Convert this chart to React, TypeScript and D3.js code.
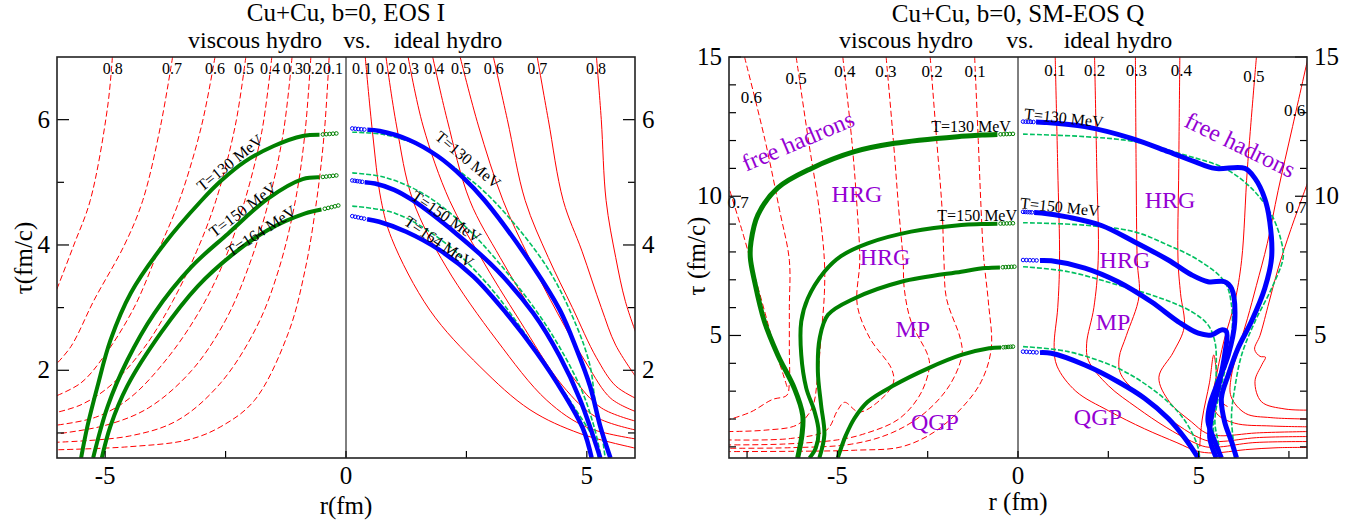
import React from 'react';
import * as d3 from 'd3';

type Pt = [number, number];

// ================= LEFT PANEL: Cu+Cu, b=0, EOS I =================
const velocityLabelsI = ['0.1', '0.2', '0.3', '0.4', '0.5', '0.6', '0.7', '0.8'];

// viscous hydro (dashed) velocity contours, r<0
const eosIViscV01: Pt[] = [[-0.35, 7], [-0.45, 5.8], [-0.61, 4.71], [-0.85, 3.6], [-1.2, 2.59], [-1.9, 1.52], [-2.6, 1.1], [-3.28, 0.89], [-4.5, 0.78], [-6.05, 0.73]];
const eosIViscV02: Pt[] = [[-0.73, 7], [-0.85, 5.8], [-1.05, 4.71], [-1.4, 3.6], [-1.85, 2.7], [-2.6, 1.8], [-3.5, 1.2], [-4.5, 0.95], [-6.05, 0.85]];
const eosIViscV03: Pt[] = [[-1.12, 7], [-1.3, 5.8], [-1.6, 4.71], [-2.0, 3.7], [-2.5, 2.8], [-3.2, 2.0], [-4.1, 1.4], [-5.0, 1.12], [-6.05, 0.98]];
const eosIViscV04: Pt[] = [[-1.54, 7], [-1.75, 5.8], [-2.1, 4.71], [-2.5, 3.8], [-3.0, 3.0], [-3.7, 2.2], [-4.5, 1.55], [-5.2, 1.25], [-6.05, 1.12]];
const eosIViscV05: Pt[] = [[-2.08, 7], [-2.3, 5.9], [-2.7, 4.71], [-3.1, 3.9], [-3.6, 3.1], [-4.2, 2.35], [-4.9, 1.75], [-5.5, 1.45], [-6.05, 1.32]];
const eosIViscV06: Pt[] = [[-2.72, 7], [-3.0, 5.9], [-3.46, 4.71], [-3.9, 3.9], [-4.4, 3.0], [-5.0, 2.25], [-5.5, 1.8], [-6.05, 1.58]];
const eosIViscV07: Pt[] = [[-3.6, 7], [-3.85, 5.9], [-4.22, 4.71], [-4.6, 4.0], [-5.23, 3.12], [-5.71, 2.38], [-6.05, 2.07]];
const eosIViscV08: Pt[] = [[-4.85, 7], [-4.95, 6.2], [-5.31, 4.71], [-5.65, 4.0], [-6.05, 3.2]];
const eosIViscousVelocity: Pt[][] = [eosIViscV01, eosIViscV02, eosIViscV03, eosIViscV04, eosIViscV05, eosIViscV06, eosIViscV07, eosIViscV08];

// ideal hydro (solid) velocity contours, r>0
const eosIIdealV01: Pt[] = [[0.4, 7], [0.55, 5.8], [0.73, 4.71], [0.95, 4.1], [1.74, 2.96], [2.78, 2.06], [3.82, 1.37], [4.86, 0.99], [6.05, 0.75]];
const eosIIdealV02: Pt[] = [[0.83, 7], [1.05, 5.9], [1.39, 4.71], [2.08, 3.65], [3.13, 2.48], [4.17, 1.52], [5.0, 1.09], [6.05, 0.9]];
const eosIIdealV03: Pt[] = [[1.29, 7], [1.6, 5.9], [2.15, 4.71], [2.8, 3.8], [3.6, 2.8], [4.5, 1.75], [5.2, 1.25], [6.05, 1.04]];
const eosIIdealV04: Pt[] = [[1.8, 7], [2.1, 6.0], [2.57, 4.71], [3.2, 3.8], [3.9, 2.9], [4.7, 1.9], [5.3, 1.4], [6.05, 1.18]];
const eosIIdealV05: Pt[] = [[2.37, 7], [2.75, 5.9], [3.26, 4.71], [3.8, 3.8], [4.4, 2.9], [5.0, 2.1], [5.5, 1.55], [6.05, 1.33]];
const eosIIdealV06: Pt[] = [[3.06, 7], [3.35, 6.0], [3.72, 4.71], [4.2, 3.8], [4.7, 3.0], [5.2, 2.2], [5.6, 1.75], [6.05, 1.54]];
const eosIIdealV07: Pt[] = [[3.97, 7], [4.2, 6.0], [4.51, 4.71], [4.9, 3.9], [5.3, 3.0], [5.6, 2.4], [6.05, 1.86]];
const eosIIdealV08: Pt[] = [[5.2, 7], [5.3, 6.0], [5.4, 4.71], [5.6, 3.8], [5.8, 3.1], [6.05, 2.53]];
const eosIIdealVelocity: Pt[][] = [eosIIdealV01, eosIIdealV02, eosIIdealV03, eosIIdealV04, eosIIdealV05, eosIIdealV06, eosIIdealV07, eosIIdealV08];

const isothermLabelsI = ['T=130 MeV', 'T=150 MeV', 'T=164 MeV'];
// viscous isotherms (thick green)
const eosIViscT130: Pt[] = [[-0.2, 5.78], [-0.9, 5.74], [-1.5, 5.58], [-2.1, 5.33], [-2.6, 5.02], [-3.0, 4.71], [-3.77, 4.02], [-4.47, 3.23], [-4.89, 2.48], [-5.16, 1.74], [-5.37, 1.1], [-5.5, 0.6]];
const eosIViscT150: Pt[] = [[-0.2, 5.11], [-0.9, 5.05], [-1.62, 4.74], [-2.45, 4.18], [-3.21, 3.65], [-3.98, 2.91], [-4.54, 2.16], [-4.95, 1.42], [-5.25, 0.6]];
const eosIViscT164: Pt[] = [[-0.16, 4.63], [-0.86, 4.5], [-1.62, 4.24], [-2.32, 3.87], [-3.08, 3.34], [-3.84, 2.6], [-4.54, 1.75], [-4.89, 1.11], [-5.07, 0.6]];
const eosIViscousIsotherms: Pt[][] = [eosIViscT130, eosIViscT150, eosIViscT164];
// ideal isotherms (thick blue)
const eosIIdealT130: Pt[] = [[0.13, 5.86], [0.7, 5.82], [1.3, 5.68], [1.9, 5.42], [2.4, 5.1], [2.88, 4.71], [3.89, 3.65], [4.44, 2.96], [4.79, 2.33], [5.07, 1.74], [5.28, 1.1], [5.49, 0.6]];
const eosIIdealT150: Pt[] = [[0.13, 5.03], [0.6, 4.98], [1.0, 4.88], [1.39, 4.71], [2.29, 4.18], [3.13, 3.6], [3.89, 2.91], [4.44, 2.22], [4.86, 1.53], [5.28, 0.6]];
const eosIIdealT164: Pt[] = [[0.13, 4.46], [0.69, 4.37], [1.25, 4.21], [1.94, 3.92], [2.64, 3.5], [3.33, 2.91], [3.96, 2.28], [4.51, 1.64], [4.93, 1.05], [5.1, 0.6]];
const eosIIdealIsotherms: Pt[][] = [eosIIdealT130, eosIIdealT150, eosIIdealT164];
// thin green dotted reference isotherms on the ideal side
const eosIRefT130: Pt[] = [[0.13, 5.8], [0.8, 5.76], [1.6, 5.56], [2.4, 5.15], [3.06, 4.71], [4.17, 3.65], [4.79, 2.7], [5.07, 2.06], [5.17, 1.52], [5.31, 0.99], [5.38, 0.6]];
const eosIRefT150: Pt[] = [[0.13, 5.15], [0.8, 5.08], [1.6, 4.82], [2.4, 4.35], [3.19, 3.7], [4.17, 2.7], [4.86, 1.74], [5.15, 1.1], [5.3, 0.6]];
const eosIRefT164: Pt[] = [[0.13, 4.62], [1.04, 4.5], [2.08, 4.02], [2.92, 3.39], [3.61, 2.7], [4.17, 2.06], [4.72, 1.43], [5.14, 0.9], [5.24, 0.6]];
const eosIReference: Pt[][] = [eosIRefT130, eosIRefT150, eosIRefT164];

// label anchors (r, tau, angle)
const isoLabelAnchorsIViscous: [number, number, number][] = [[-2.41, 5.31, -39], [-2.14, 4.56, -37], [-1.76, 4.22, -33]];
const isoLabelAnchorsIIdeal: [number, number, number][] = [[2.53, 5.36, 40], [2.08, 4.45, 34], [1.93, 4.05, 34]];
const velLabelRIViscous = [-0.27, -0.69, -1.1, -1.58, -2.12, -2.72, -3.61, -4.84];
const velLabelRIIdeal = [0.33, 0.83, 1.31, 1.83, 2.39, 3.07, 3.97, 5.19];

// ================= RIGHT PANEL: Cu+Cu, b=0, SM-EOS Q =================
const velocityLabelsQ = ['0.1', '0.2', '0.3', '0.4', '0.5', '0.6', '0.7'];
const eosQViscV01: Pt[] = [[-1.2, 15], [-1.1, 12], [-1.02, 9.5], [-0.95, 7.8], [-0.82, 6.2], [-0.74, 4.54], [-1.02, 3.34], [-1.57, 2.38], [-2.31, 1.54], [-3.23, 1.0], [-4.5, 0.88], [-6.3, 0.84], [-8.05, 0.83]];
const eosQViscV02: Pt[] = [[-2.43, 15], [-2.25, 12], [-2.1, 9.5], [-2.05, 7.7], [-1.98, 6.33], [-1.6, 4.9], [-1.55, 4.3], [-1.9, 3.2], [-2.6, 2.2], [-3.5, 1.5], [-4.6, 1.1], [-6.3, 0.97], [-8.05, 0.95]];
const eosQViscV03: Pt[] = [[-3.65, 15], [-3.45, 12], [-3.3, 9.5], [-3.18, 7.7], [-3.15, 6.7], [-2.96, 5.5], [-2.5, 4.3], [-2.45, 3.9], [-2.7, 2.9], [-3.3, 2.0], [-4.3, 1.45], [-5.0, 1.25], [-6.5, 1.1], [-8.05, 1.07]];
const eosQViscV04: Pt[] = [[-4.85, 15], [-4.6, 12], [-4.45, 9.5], [-4.38, 7.7], [-4.45, 6.1], [-4.1, 4.9], [-3.5, 3.8], [-3.45, 3.3], [-3.8, 2.7], [-4.4, 2.25], [-4.8, 2.6], [-5.0, 2.3], [-5.3, 1.6], [-6.3, 1.3], [-8.05, 1.25]];
const eosQViscV05: Pt[] = [[-6.14, 15], [-5.8, 12], [-5.5, 9.5], [-5.36, 7.7], [-5.36, 6.5], [-5.45, 5.0], [-5.55, 3.5], [-5.7, 2.4], [-6.1, 1.8], [-7.0, 1.6], [-8.05, 1.55]];
const eosQViscV06: Pt[] = [[-7.57, 15], [-7.0, 12], [-6.6, 9.5], [-6.33, 7.7], [-6.33, 6.0], [-6.33, 4.5], [-6.33, 3.3], [-6.4, 2.85], [-6.8, 2.7], [-7.4, 2.25], [-8.05, 1.96]];
const eosQViscV07: Pt[] = [[-8.05, 10.5], [-7.6, 8.6], [-7.3, 7.2], [-7.0, 5.8], [-6.75, 4.6], [-6.5, 3.6], [-6.38, 3.1]];
const eosQViscousVelocity: Pt[][] = [eosQViscV01, eosQViscV02, eosQViscV03, eosQViscV04, eosQViscV05, eosQViscV06, eosQViscV07];

const eosQIdealV01: Pt[] = [[1.03, 15], [1.1, 11], [1.15, 7.7], [1.1, 6.0], [1.0, 4.6], [1.08, 3.9], [1.6, 3.0], [2.5, 2.3], [3.5, 1.65], [4.4, 1.15], [4.95, 0.85], [5.4, 0.78], [6.3, 0.9], [7.2, 0.97], [8.05, 0.98]];
const eosQIdealV02: Pt[] = [[2.12, 15], [2.18, 11], [2.22, 7.7], [2.1, 6.0], [1.9, 4.7], [1.95, 4.1], [2.5, 3.2], [3.3, 2.4], [4.1, 1.7], [4.8, 1.2], [5.2, 1.0], [5.6, 1.0], [6.5, 1.15], [8.05, 1.19]];
const eosQIdealV03: Pt[] = [[3.25, 15], [3.27, 11], [3.3, 7.7], [3.35, 6.4], [3.0, 5.0], [2.8, 4.2], [2.85, 3.6], [3.5, 2.7], [4.3, 1.9], [4.9, 1.4], [5.3, 1.2], [5.7, 1.2], [6.6, 1.33], [8.05, 1.37]];
const eosQIdealV04: Pt[] = [[4.48, 15], [4.45, 11], [4.43, 7.7], [4.5, 6.5], [4.6, 5.3], [4.3, 4.4], [3.9, 3.5], [4.2, 2.6], [4.8, 1.9], [5.2, 1.5], [5.6, 1.4], [6.6, 1.5], [8.05, 1.55]];
const eosQIdealV05: Pt[] = [[6.6, 15], [6.35, 11], [6.19, 7.7], [6.0, 6.2], [5.7, 4.8], [5.5, 3.6], [5.4, 2.8], [5.5, 2.2], [6.0, 1.85], [7.0, 1.75], [8.05, 1.72]];
const eosQIdealV06: Pt[] = [[8.05, 15.1], [7.6, 12.5], [7.2, 10.2], [6.9, 8.3], [6.6, 6.8], [6.35, 5.6], [6.1, 4.5], [5.9, 3.5], [5.9, 2.8], [6.3, 2.2], [7.0, 2.05], [8.05, 2.0]];
const eosQIdealV07: Pt[] = [[8.05, 10.6], [7.55, 8.8], [7.2, 7.4], [6.95, 6.2], [6.7, 5.0], [6.55, 4.5], [6.7, 4.25], [6.85, 4.22], [6.75, 3.95], [6.56, 3.35], [6.74, 2.62], [7.39, 2.36], [8.05, 2.32]];
const eosQIdealSpike: Pt[] = [[5.03, 1.0], [5.1, 2.0], [5.3, 3.3], [5.42, 4.3], [5.52, 3.4], [5.65, 2.6], [5.8, 2.45]];
const eosQIdealVelocity: Pt[][] = [eosQIdealV01, eosQIdealV02, eosQIdealV03, eosQIdealV04, eosQIdealV05, eosQIdealV06, eosQIdealV07];

// viscous isotherms (thick green); the 3rd and 4th are the mixed-phase boundaries
const eosQViscT130: Pt[] = [[-0.14, 12.24], [-1.0, 12.2], [-1.57, 12.15], [-3.42, 11.9], [-4.53, 11.6], [-5.72, 11.0], [-6.65, 10.3], [-7.2, 9.33], [-7.39, 8.37], [-7.41, 7.8], [-7.29, 6.93], [-7.02, 5.5], [-6.65, 4.3], [-6.19, 3.1], [-5.96, 2.14], [-5.98, 1.43], [-6.1, 0.6]];
const eosQViscT150: Pt[] = [[-0.14, 9.03], [-1.0, 9.0], [-1.57, 8.97], [-2.96, 8.73], [-4.16, 8.31], [-4.9, 7.85], [-5.36, 7.29], [-5.82, 6.33], [-6.0, 5.5], [-6.0, 4.3], [-5.86, 3.1], [-5.63, 2.26], [-5.52, 1.55], [-5.6, 0.95], [-5.77, 0.6]];
const eosQViscHM: Pt[] = [[-0.1, 7.47], [-0.9, 7.42], [-1.57, 7.29], [-3.23, 6.93], [-4.53, 6.33], [-5.26, 5.74], [-5.49, 4.9], [-5.54, 3.7], [-5.45, 2.5], [-5.36, 1.43], [-5.5, 0.6]];
const eosQViscMQ: Pt[] = [[-0.14, 4.6], [-0.8, 4.54], [-1.57, 4.3], [-2.49, 3.82], [-3.42, 3.22], [-4.16, 2.62], [-4.53, 2.02], [-4.76, 1.43], [-4.9, 0.95], [-4.99, 0.6]];
const eosQViscousIsotherms: Pt[][] = [eosQViscT130, eosQViscT150, eosQViscHM, eosQViscMQ];

// ideal isotherms (thick blue)
const eosQIdealT130: Pt[] = [[0.14, 12.68], [0.74, 12.65], [1.85, 12.5], [3.14, 12.08], [4.16, 11.6], [4.89, 11.24], [5.45, 11.0], [6.28, 11.0], [6.56, 10.64], [6.83, 9.92], [6.97, 9.08], [7.02, 7.8], [6.83, 6.69], [6.46, 5.5], [6.09, 4.54], [5.82, 3.58], [5.63, 2.74], [5.72, 1.9], [5.91, 1.19], [6.05, 0.6]];
const eosQIdealT150: Pt[] = [[0.14, 9.44], [0.65, 9.4], [1.39, 9.25], [2.31, 8.95], [3.23, 8.36], [4.16, 7.71], [4.8, 7.18], [5.26, 6.93], [5.72, 6.93], [5.91, 6.69], [6.0, 5.5], [5.82, 4.3], [5.54, 3.34], [5.31, 2.5], [5.26, 1.9], [5.45, 1.19], [5.63, 0.6]];
const eosQIdealHM: Pt[] = [[0.14, 7.71], [0.92, 7.68], [1.85, 7.42], [2.77, 6.93], [3.69, 6.21], [4.43, 5.5], [4.99, 5.08], [5.36, 5.02], [5.63, 5.2], [5.77, 5.14], [5.72, 4.3], [5.54, 3.1], [5.36, 2.14], [5.31, 1.31], [5.49, 0.6]];
const eosQIdealMQ: Pt[] = [[0.14, 4.42], [0.92, 4.36], [1.85, 3.94], [2.77, 3.34], [3.51, 2.74], [4.16, 2.02], [4.62, 1.31], [4.99, 0.6]];
const eosQIdealIsotherms: Pt[][] = [eosQIdealT130, eosQIdealT150, eosQIdealHM, eosQIdealMQ];

// thin green dotted reference isotherms on the ideal side
const eosQRefT130: Pt[] = [[0.14, 12.23], [1.85, 12.14], [3.23, 11.96], [4.62, 11.48], [5.72, 11.0], [6.46, 10.29], [7.02, 9.33], [7.29, 8.37], [7.34, 7.8], [7.02, 6.69], [6.56, 5.5], [6.19, 4.3], [6.0, 3.1], [5.91, 2.14], [5.96, 1.19], [6.0, 0.6]];
const eosQRefT150: Pt[] = [[0.14, 9.05], [1.85, 8.96], [3.23, 8.72], [4.16, 8.24], [4.99, 7.71], [5.72, 6.93], [5.91, 6.09], [5.91, 4.9], [5.72, 3.7], [5.54, 2.74], [5.45, 1.9], [5.54, 1.19], [5.63, 0.6]];
const eosQRefHM: Pt[] = [[0.14, 7.47], [1.39, 7.29], [2.77, 6.81], [3.97, 6.33], [4.8, 5.86], [5.26, 5.38], [5.45, 4.78], [5.49, 3.94], [5.45, 2.86], [5.4, 1.9], [5.45, 1.07], [5.49, 0.6]];
const eosQRefMQ: Pt[] = [[0.14, 4.6], [1.39, 4.42], [2.77, 3.82], [3.69, 3.1], [4.43, 2.26], [4.8, 1.55], [4.99, 0.95], [5.03, 0.6]];
const eosQReference: Pt[][] = [eosQRefT130, eosQRefT150, eosQRefHM, eosQRefMQ];

const isothermLabelsQ = ['T=130 MeV', 'T=150 MeV'];
const isoLabelAnchorsQViscous: [number, number, number][] = [[-1.3, 12.48, 0], [-1.13, 9.29, 0]];
const isoLabelAnchorsQIdeal: [number, number, number][] = [[1.27, 12.81, 6], [1.16, 9.61, 6]];
const velLabelAnchorsQViscous: Pt[] = [[-1.19, 14.5], [-2.38, 14.5], [-3.66, 14.5], [-4.79, 14.5], [-6.14, 14.23], [-7.38, 13.57], [-7.75, 9.8]];
const velLabelAnchorsQIdeal: Pt[] = [[1.02, 14.53], [2.12, 14.53], [3.28, 14.53], [4.52, 14.53], [6.53, 14.33], [7.66, 13.1], [7.7, 9.62]];

const phaseLabels = ['free hadrons', 'free hadrons', 'HRG', 'HRG', 'HRG', 'HRG', 'MP', 'MP', 'QGP', 'QGP'];
const phaseAnchors: [number, number, number][] = [[-6.09, 11.98, -23], [6.15, 11.84, 26], [-4.46, 10.08, 0], [-3.68, 7.82, 0], [4.21, 9.86, 0], [2.96, 7.71, 0], [-2.91, 5.23, 0], [2.63, 5.48, 0], [-2.3, 1.89, 0], [2.21, 2.07, 0]];

// ================= rendering =================
const RED = '#ff0000';
const GREEN = '#008000';
const LIGHTGREEN = '#00c060';
const BLUE = '#0000ff';
const PURPLE = '#9400d3';

type Spec = {
  id: string; x0: number; x1: number; y0: number; y1: number;
  rDom: [number, number]; tDom: [number, number];
  yMajor: number[]; yMinor: number[]; xMajor: number[]; xMinor: number[];
};

function Txt(props: any) {
  const { children, ...rest } = props;
  return <text fontFamily="Liberation Serif, Tinos, serif" {...rest}>{children}</text>;
}

function lineGen(x: d3.ScaleLinear<number, number>, y: d3.ScaleLinear<number, number>) {
  return d3.line<Pt>().x(d => x(d[0])).y(d => y(d[1])).curve(d3.curveCatmullRom.alpha(0.5));
}

// split an isotherm: the part near r=0 is drawn as sparse open circles
function splitEnd(c: Pt[], frac: number): { dots: Pt[]; line: Pt[] } {
  const a = c[0], b = c[1];
  const m: Pt = [a[0] + (b[0] - a[0]) * frac, a[1] + (b[1] - a[1]) * frac];
  const dots: Pt[] = [];
  const n = 5;
  for (let i = 0; i < n; i++) {
    const t = (i / n) * frac;
    dots.push([a[0] + (b[0] - a[0]) * t, a[1] + (b[1] - a[1]) * t]);
  }
  return { dots, line: [m, ...c.slice(1)] };
}

function Frame({ s, x, y }: { s: Spec; x: d3.ScaleLinear<number, number>; y: d3.ScaleLinear<number, number> }) {
  const bottomLen = 7;
  return (
    <g>
      <line x1={x(0)} x2={x(0)} y1={s.y0} y2={s.y1} stroke="#000" strokeWidth={1} />
      {s.yMajor.map(v => (
        <g key={'ym' + v}>
          <line x1={s.x0} x2={s.x0 + 12} y1={y(v)} y2={y(v)} stroke="#000" strokeWidth={1.2} />
          <line x1={s.x1} x2={s.x1 - 12} y1={y(v)} y2={y(v)} stroke="#000" strokeWidth={1.2} />
          <Txt x={s.x0 - 7} y={y(v) + 8} textAnchor="end" fontSize={25}>{v}</Txt>
          <Txt x={s.x1 + 7} y={y(v) + 8} textAnchor="start" fontSize={25}>{v}</Txt>
        </g>
      ))}
      {s.yMinor.map(v => (
        <g key={'yn' + v}>
          <line x1={s.x0} x2={s.x0 + 7} y1={y(v)} y2={y(v)} stroke="#000" strokeWidth={1.2} />
          <line x1={s.x1} x2={s.x1 - 7} y1={y(v)} y2={y(v)} stroke="#000" strokeWidth={1.2} />
        </g>
      ))}
      {s.xMajor.map(v => (
        <g key={'xm' + v}>
          <line x1={x(v)} x2={x(v)} y1={s.y1} y2={s.y1 - bottomLen} stroke="#000" strokeWidth={1.2} />
          <Txt x={x(v)} y={s.y1 + 26} textAnchor="middle" fontSize={25}>{v}</Txt>
        </g>
      ))}
      {s.xMinor.map(v => (
        <line key={'xn' + v} x1={x(v)} x2={x(v)} y1={s.y1} y2={s.y1 - bottomLen} stroke="#000" strokeWidth={1.2} />
      ))}
      <rect x={s.x0} y={s.y0} width={s.x1 - s.x0} height={s.y1 - s.y0} fill="none" stroke="#222" strokeWidth={1.6} />
    </g>
  );
}

function Isotherm({ c, L, x, y, color, width, frac }: { c: Pt[]; L: any; x: any; y: any; color: string; width: number; frac: number }) {
  const { dots, line } = splitEnd(c, frac);
  return (
    <g>
      <path d={L(line) || ''} fill="none" stroke={color} strokeWidth={width} />
      {dots.map((d, i) => (
        <circle key={i} cx={x(d[0])} cy={y(d[1])} r={1.8} fill="none" stroke={color} strokeWidth={1} />
      ))}
    </g>
  );
}

const leftSpec: Spec = {
  id: 'clipL', x0: 57, x1: 635, y0: 57, y1: 458, rDom: [-6, 6], tDom: [0.6, 7],
  yMajor: [2, 4, 6], yMinor: [1, 3, 5], xMajor: [-5, 0, 5], xMinor: [-2.5, 2.5],
};
const rightSpec: Spec = {
  id: 'clipR', x0: 729, x1: 1307, y0: 57, y1: 458, rDom: [-8, 8], tDom: [0.6, 15],
  yMajor: [5, 10, 15], yMinor: [1, 2, 3, 4, 6, 7, 8, 9, 11, 12, 13, 14], xMajor: [-5, 0, 5], xMinor: [-7.5, -2.5, 2.5, 7.5],
};

// rotated / centred label; size*0.33 shifts the baseline so the glyphs sit centred on the anchor
function rotText(key: string, lab: string, px: number, py: number, ang: number, size: number, fill = '#000') {
  return <Txt key={key} transform={`translate(${px},${py}) rotate(${ang})`} x={0} y={size * 0.33} textAnchor="middle" fontSize={size} fill={fill}>{lab}</Txt>;
}

function LeftPanel() {
  const s = leftSpec;
  const x = d3.scaleLinear().domain(s.rDom).range([s.x0, s.x1]);
  const y = d3.scaleLinear().domain(s.tDom).range([s.y1, s.y0]);
  const L = lineGen(x, y);
  const cx = x(0);
  return (
    <g>
      <defs>
        <clipPath id={s.id}><rect x={s.x0} y={s.y0} width={s.x1 - s.x0} height={s.y1 - s.y0} /></clipPath>
      </defs>
      <Txt x={cx} y={21} textAnchor="middle" fontSize={25}>Cu+Cu, b=0, EOS I</Txt>
      <Txt x={255} y={48} textAnchor="middle" fontSize={24}>viscous hydro</Txt>
      <Txt x={357} y={48} textAnchor="middle" fontSize={24}>vs.</Txt>
      <Txt x={448} y={48} textAnchor="middle" fontSize={24}>ideal hydro</Txt>
      <g clipPath={`url(#${s.id})`}>
        {eosIViscousVelocity.map((c, i) => (
          <path key={'vv' + i} d={L(c) || ''} fill="none" stroke={RED} strokeWidth={1} strokeDasharray="6,3" />
        ))}
        {eosIIdealVelocity.map((c, i) => (
          <path key={'iv' + i} d={L(c) || ''} fill="none" stroke={RED} strokeWidth={1} />
        ))}
        {eosIReference.map((c, i) => (
          <path key={'rf' + i} d={L(c) || ''} fill="none" stroke={LIGHTGREEN} strokeWidth={1.6} strokeDasharray="5,2" />
        ))}
        {eosIViscousIsotherms.map((c, i) => (
          <Isotherm key={'vt' + i} c={c} L={L} x={x} y={y} color={GREEN} width={4} frac={0.5} />
        ))}
        {eosIIdealIsotherms.map((c, i) => (
          <Isotherm key={'it' + i} c={c} L={L} x={x} y={y} color={BLUE} width={4.5} frac={0.55} />
        ))}
      </g>
      {velocityLabelsI.map((lab, i) => (
        <Txt key={'lv' + i} x={x(velLabelRIViscous[i])} y={74} textAnchor="middle" fontSize={16}>{lab}</Txt>
      ))}
      {velocityLabelsI.map((lab, i) => (
        <Txt key={'li' + i} x={x(velLabelRIIdeal[i])} y={74} textAnchor="middle" fontSize={16}>{lab}</Txt>
      ))}
      {isothermLabelsI.map((lab, i) => {
        const a = isoLabelAnchorsIViscous[i];
        return rotText('tl' + i, lab, x(a[0]), y(a[1]), a[2], 16);
      })}
      {isothermLabelsI.map((lab, i) => {
        const a = isoLabelAnchorsIIdeal[i];
        return rotText('tr' + i, lab, x(a[0]), y(a[1]), a[2], 16);
      })}
      <Frame s={s} x={x} y={y} />
      {rotText('yl', 'τ(fm/c)', 24, 258, -90, 25)}
      <Txt x={cx} y={514} textAnchor="middle" fontSize={25}>r(fm)</Txt>
    </g>
  );
}

function RightPanel() {
  const s = rightSpec;
  const x = d3.scaleLinear().domain(s.rDom).range([s.x0, s.x1]);
  const y = d3.scaleLinear().domain(s.tDom).range([s.y1, s.y0]);
  const L = lineGen(x, y);
  const cx = x(0);
  return (
    <g>
      <defs>
        <clipPath id={s.id}><rect x={s.x0} y={s.y0} width={s.x1 - s.x0} height={s.y1 - s.y0} /></clipPath>
      </defs>
      <Txt x={cx} y={22} textAnchor="middle" fontSize={25}>Cu+Cu, b=0, SM-EOS Q</Txt>
      <Txt x={906} y={48} textAnchor="middle" fontSize={24}>viscous hydro</Txt>
      <Txt x={1020} y={48} textAnchor="middle" fontSize={24}>vs.</Txt>
      <Txt x={1118} y={48} textAnchor="middle" fontSize={24}>ideal hydro</Txt>
      <g clipPath={`url(#${s.id})`}>
        {eosQViscousVelocity.map((c, i) => (
          <path key={'vv' + i} d={L(c) || ''} fill="none" stroke={RED} strokeWidth={1} strokeDasharray="6,3" />
        ))}
        {eosQIdealVelocity.map((c, i) => (
          <path key={'iv' + i} d={L(c) || ''} fill="none" stroke={RED} strokeWidth={1} />
        ))}
        <path d={L(eosQIdealSpike) || ''} fill="none" stroke={RED} strokeWidth={1} />
        {eosQReference.map((c, i) => (
          <path key={'rf' + i} d={L(c) || ''} fill="none" stroke={LIGHTGREEN} strokeWidth={1.6} strokeDasharray="5,2" />
        ))}
        {eosQViscousIsotherms.map((c, i) => (
          <Isotherm key={'vt' + i} c={c} L={L} x={x} y={y} color={GREEN} width={i === 0 ? 5 : 4} frac={0.5} />
        ))}
        {eosQIdealIsotherms.map((c, i) => (
          <Isotherm key={'it' + i} c={c} L={L} x={x} y={y} color={BLUE} width={5} frac={0.6} />
        ))}
      </g>
      {velocityLabelsQ.map((lab, i) => (
        <Txt key={'lv' + i} x={x(velLabelAnchorsQViscous[i][0])} y={y(velLabelAnchorsQViscous[i][1]) + 6} textAnchor="middle" fontSize={17}>{lab}</Txt>
      ))}
      {velocityLabelsQ.map((lab, i) => (
        <Txt key={'li' + i} x={x(velLabelAnchorsQIdeal[i][0])} y={y(velLabelAnchorsQIdeal[i][1]) + 6} textAnchor="middle" fontSize={17}>{lab}</Txt>
      ))}
      {isothermLabelsQ.map((lab, i) => {
        const a = isoLabelAnchorsQViscous[i];
        return rotText('tl' + i, lab, x(a[0]), y(a[1]), a[2], 16);
      })}
      {isothermLabelsQ.map((lab, i) => {
        const a = isoLabelAnchorsQIdeal[i];
        return rotText('tr' + i, lab, x(a[0]), y(a[1]), a[2], 16);
      })}
      {phaseLabels.map((lab, i) => {
        const a = phaseAnchors[i];
        return rotText('ph' + i, lab, x(a[0]), y(a[1]), a[2], 24, PURPLE);
      })}
      <Frame s={s} x={x} y={y} />
      {rotText('yl', 'τ (fm/c)', 697, 256, -90, 25)}
      <Txt x={cx} y={510} textAnchor="middle" fontSize={25}>r (fm)</Txt>
    </g>
  );
}

export default function App() {
  return (
    <svg width={1372} height={520} style={{ position: 'absolute', left: 0, top: 0, background: '#fff' }}>
      <style>{"text { font-family: 'Liberation Serif', Tinos, serif; }"}</style>
      <rect x={0} y={0} width={1372} height={520} fill="#fff" />
      <LeftPanel />
      <RightPanel />
    </svg>
  );
}
